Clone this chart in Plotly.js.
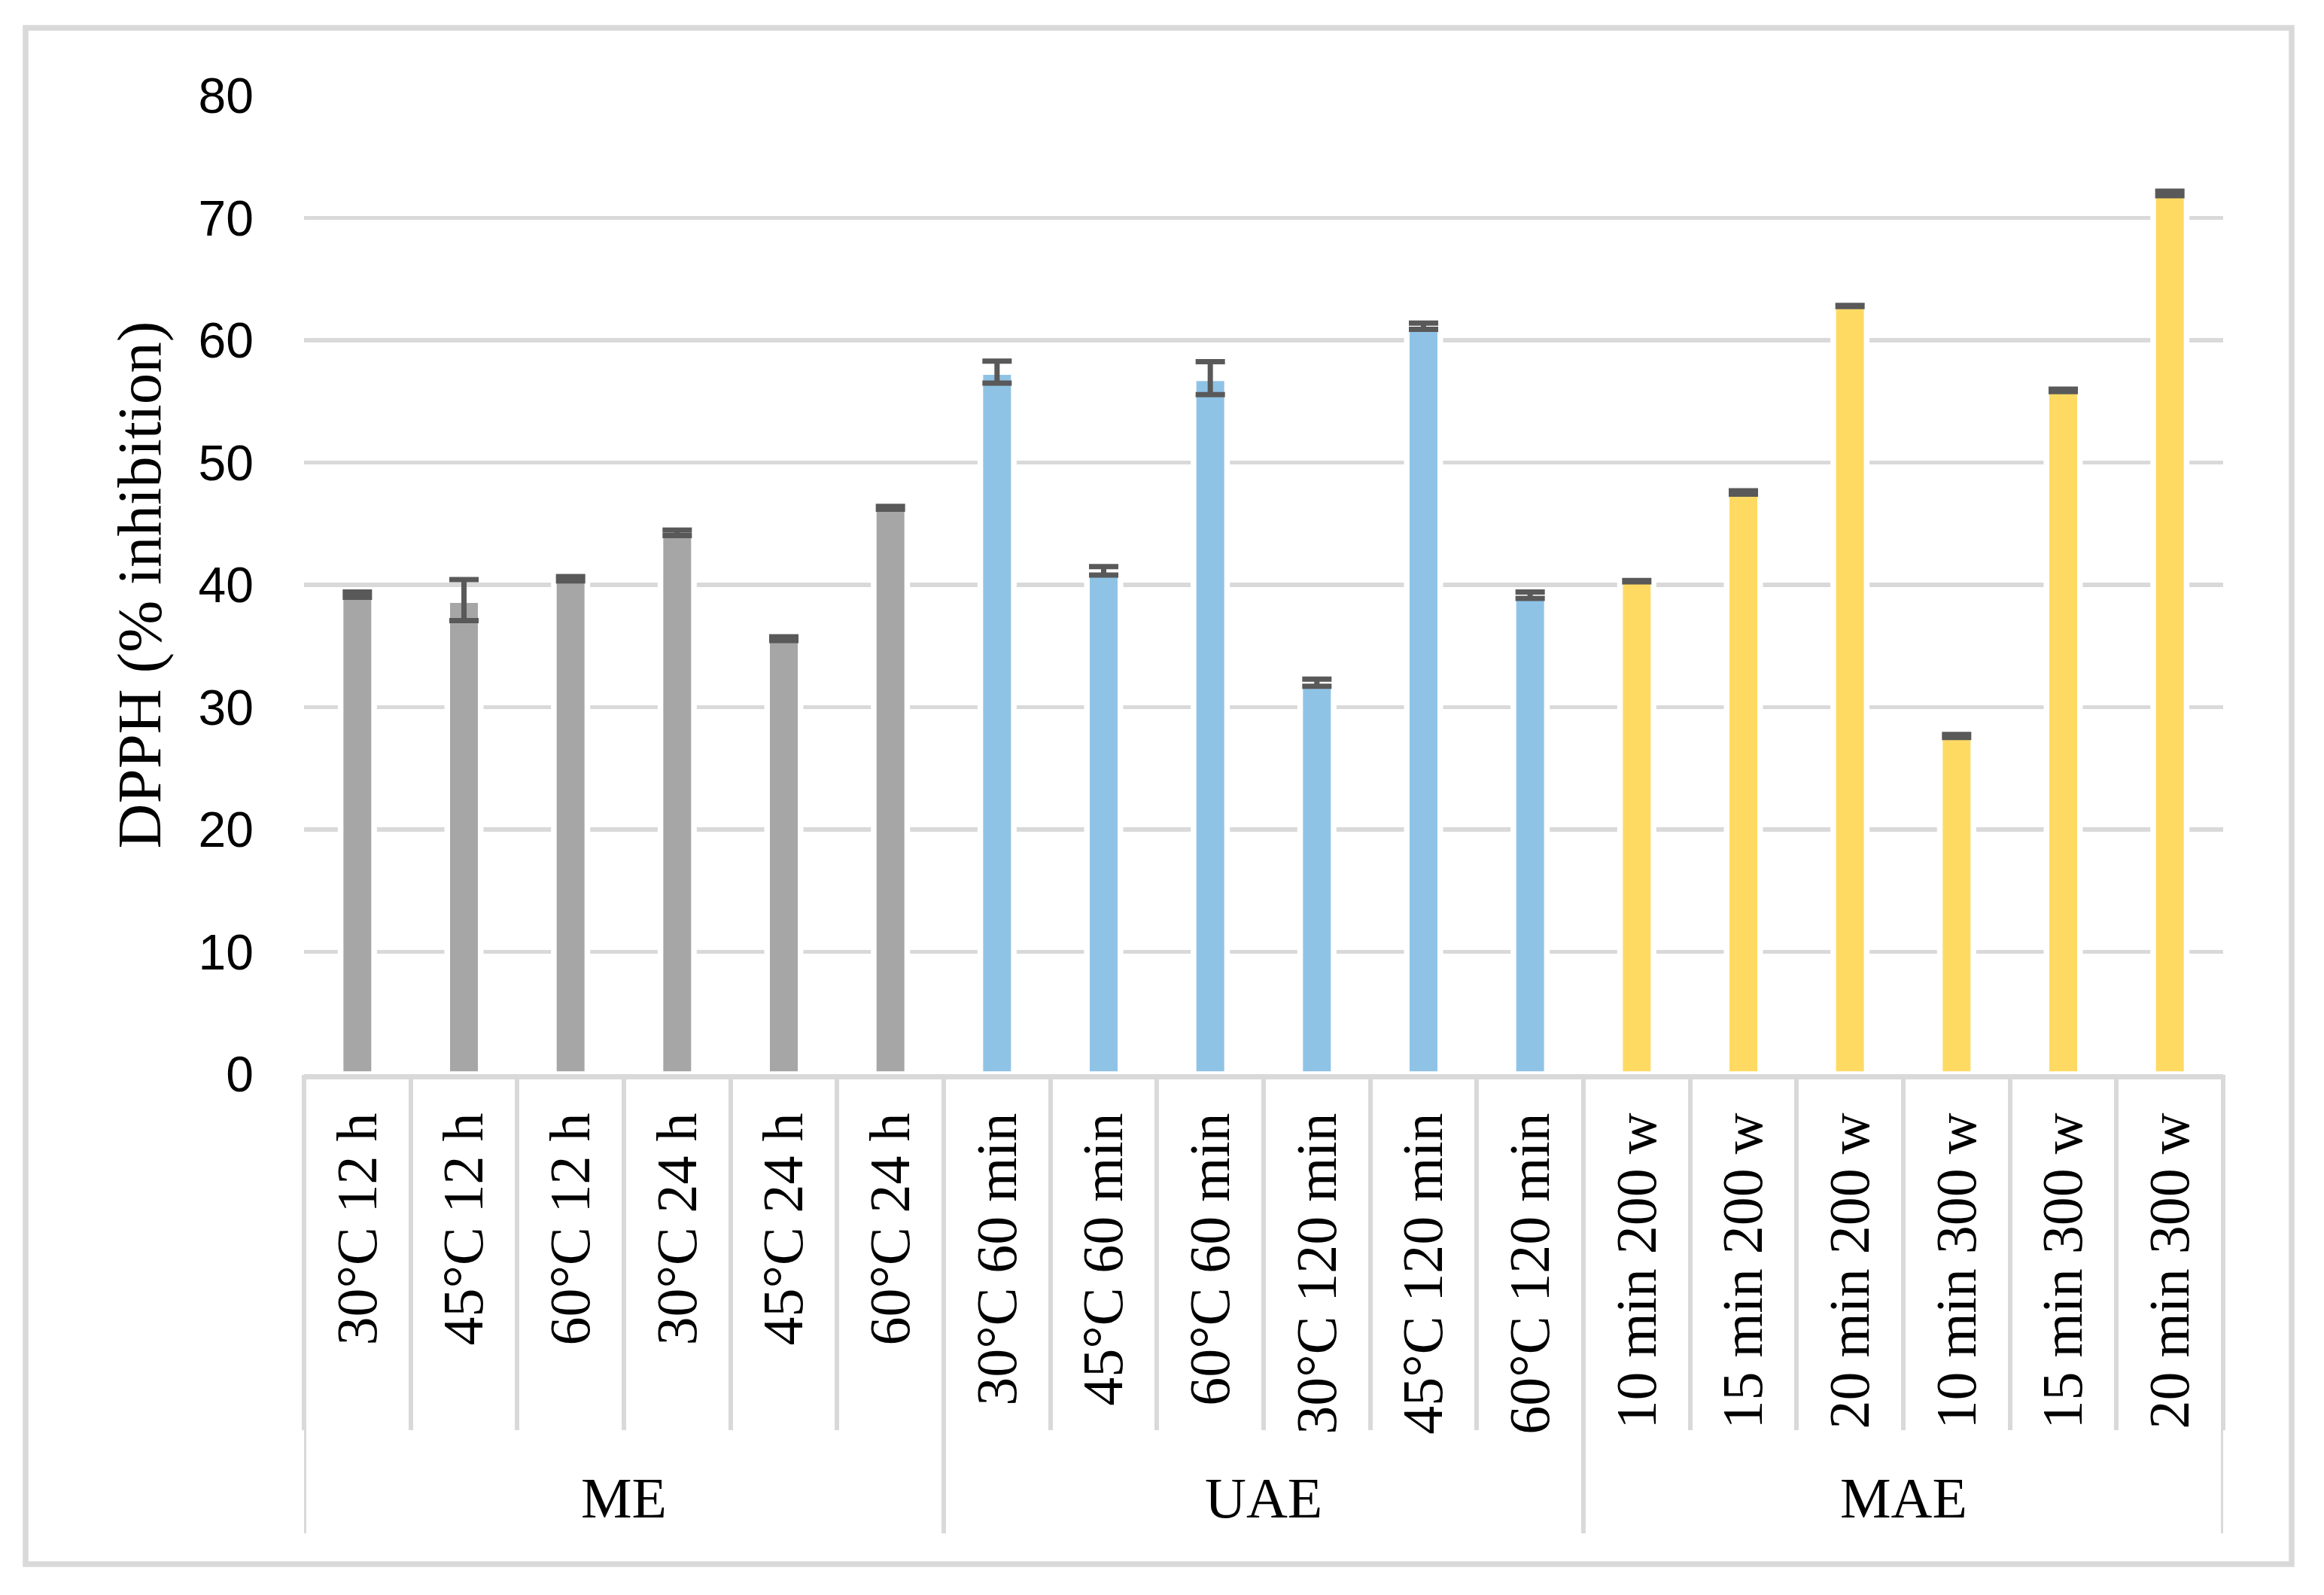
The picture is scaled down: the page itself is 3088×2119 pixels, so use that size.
<!DOCTYPE html>
<html>
<head>
<meta charset="utf-8">
<script src="https://cdn.plot.ly/plotly-3.0.1.min.js"></script>
<style>html,body{margin:0;padding:0;background:#fff;}</style>
</head>
<body>
<div id="chart" style="width:3088px;height:2119px;"></div>
<script>
// ---- data ----
const groupNames = ["ME", "UAE", "MAE"];
const meLabels  = ["30°C 12 h", "45°C 12 h", "60°C 12 h", "30°C 24 h", "45°C 24 h", "60°C 24 h"];
const uaeLabels = ["30°C 60 min", "45°C 60 min", "60°C 60 min", "30°C 120 min", "45°C 120 min", "60°C 120 min"];
const maeLabels = ["10 min 200 w", "15 min 200 w", "20 min 200 w", "10 min 300 w", "15 min 300 w", "20 min 300 w"];
const meValues  = [39.2, 38.75, 40.5, 44.25, 35.6, 46.3];
const meErrors  = [0.21, 1.68, 0.18, 0.22, 0.15, 0.12];
const uaeValues = [57.4, 41.15, 56.9, 32.0, 61.15, 39.15];
const uaeErrors = [0.9, 0.35, 1.35, 0.29, 0.25, 0.26];
const maeValues = [40.3, 47.55, 62.8, 27.65, 55.9, 72.0];
const maeErrors = [0.05, 0.14, 0.05, 0.12, 0.1, 0.19];
const groupColors = ["#A6A6A6", "#8FC3E6", "#FFDA63"];
const yTicks = [0, 10, 20, 30, 40, 50, 60, 70, 80];

const groupLabels = [meLabels, uaeLabels, maeLabels];
const groupValues = [meValues, uaeValues, maeValues];
const groupErrors = [meErrors, uaeErrors, maeErrors];
const allCats = [].concat(meLabels, uaeLabels, maeLabels);

// ---- geometry helpers (pixel -> paper) ----
const W = 3088, H = 2119;
const mL = 404, mR = 134, mT = 127, mB = 692;
const plotW = W - mL - mR, plotH = H - mT - mB;
const px2py = p => (H - mB - p) / plotH;
const px2px = p => (p - mL) / plotW;

const traces = groupNames.map((g, i) => ({
  type: "bar",
  name: g,
  x: groupLabels[i],
  y: groupValues[i],
  xaxis: "x",
  yaxis: "y",
  width: 0.314,
  marker: { color: groupColors[i], line: { color: "#FFFFFF", width: 7.5 } },
  error_y: { type: "data", array: groupErrors[i], visible: true, color: "#595959", thickness: 7, width: 19.5 },
  hoverinfo: "x+y",
  showlegend: false
}));

// invisible helper trace so the boundary-tick axis knows the categories
traces.push({
  type: "scatter",
  mode: "markers",
  x: allCats,
  y: allCats.map(() => 0),
  xaxis: "x2",
  yaxis: "y",
  marker: { opacity: 0, size: 1 },
  hoverinfo: "skip",
  showlegend: false
});

// group divider lines and group labels
const shapes = [];
const annotations = [];
let start = 0;
const bounds = [-0.5];
groupLabels.forEach((labs, i) => {
  const end = start + labs.length;
  bounds.push(end - 0.5);
  annotations.push({
    xref: "x", yref: "paper",
    x: (start + end - 1) / 2,
    y: px2py(1990),
    text: groupNames[i],
    showarrow: false,
    xanchor: "center", yanchor: "middle",
    font: { family: "Liberation Serif, Times New Roman, serif", size: 76, color: "#000" }
  });
  start = end;
});
bounds.forEach(b => {
  shapes.push({
    type: "line", xref: "x", yref: "paper",
    x0: b, x1: b, y0: px2py(1428), y1: px2py(2037),
    line: { color: "#D9D9D9", width: 6 }
  });
});
// outer chart frame
shapes.push({
  type: "rect", xref: "paper", yref: "paper",
  x0: px2px(34), x1: px2px(3045), y0: px2py(2078), y1: px2py(37),
  line: { color: "#D9D9D9", width: 7.5 }, fillcolor: "rgba(0,0,0,0)", layer: "below"
});

const layout = {
  width: W, height: H, autosize: false,
  margin: { l: mL, r: mR, t: mT, b: mB, pad: 0 },
  paper_bgcolor: "#FFFFFF", plot_bgcolor: "#FFFFFF",
  barmode: "overlay",
  showlegend: false,
  xaxis: {
    type: "category",
    categoryorder: "array", categoryarray: allCats,
    range: [-0.5, allCats.length - 0.5],
    showline: true, linecolor: "#D9D9D9", linewidth: 7,
    showgrid: false, zeroline: false,
    ticks: "", tickangle: -90,
    ticklabelstandoff: 14,
    tickfont: { family: "Liberation Serif, Times New Roman, serif", size: 76, color: "#000" }
  },
  xaxis2: {
    type: "category", overlaying: "x", anchor: "y", side: "bottom",
    categoryorder: "array", categoryarray: allCats,
    range: [-0.5, allCats.length - 0.5],
    showline: false, showgrid: false, zeroline: false,
    showticklabels: false,
    ticks: "outside", tickson: "boundaries", ticklen: 472, tickwidth: 6, tickcolor: "#D9D9D9"
  },
  yaxis: {
    range: [0, 80],
    tickvals: yTicks,
    showline: false, zeroline: false,
    showgrid: true, gridcolor: "#D9D9D9", gridwidth: 5.5,
    ticks: "",
    ticklabelstandoff: 66,
    tickfont: { family: "Liberation Sans, Arial, sans-serif", size: 66, color: "#000" },
    title: {
      text: "DPPH (% inhibition)",
      standoff: 22,
      font: { family: "Liberation Serif, Times New Roman, serif", size: 83, color: "#000" }
    }
  },
  shapes: shapes,
  annotations: annotations
};

Plotly.newPlot("chart", traces, layout, { displayModeBar: false, staticPlot: true });
</script>
</body>
</html>
